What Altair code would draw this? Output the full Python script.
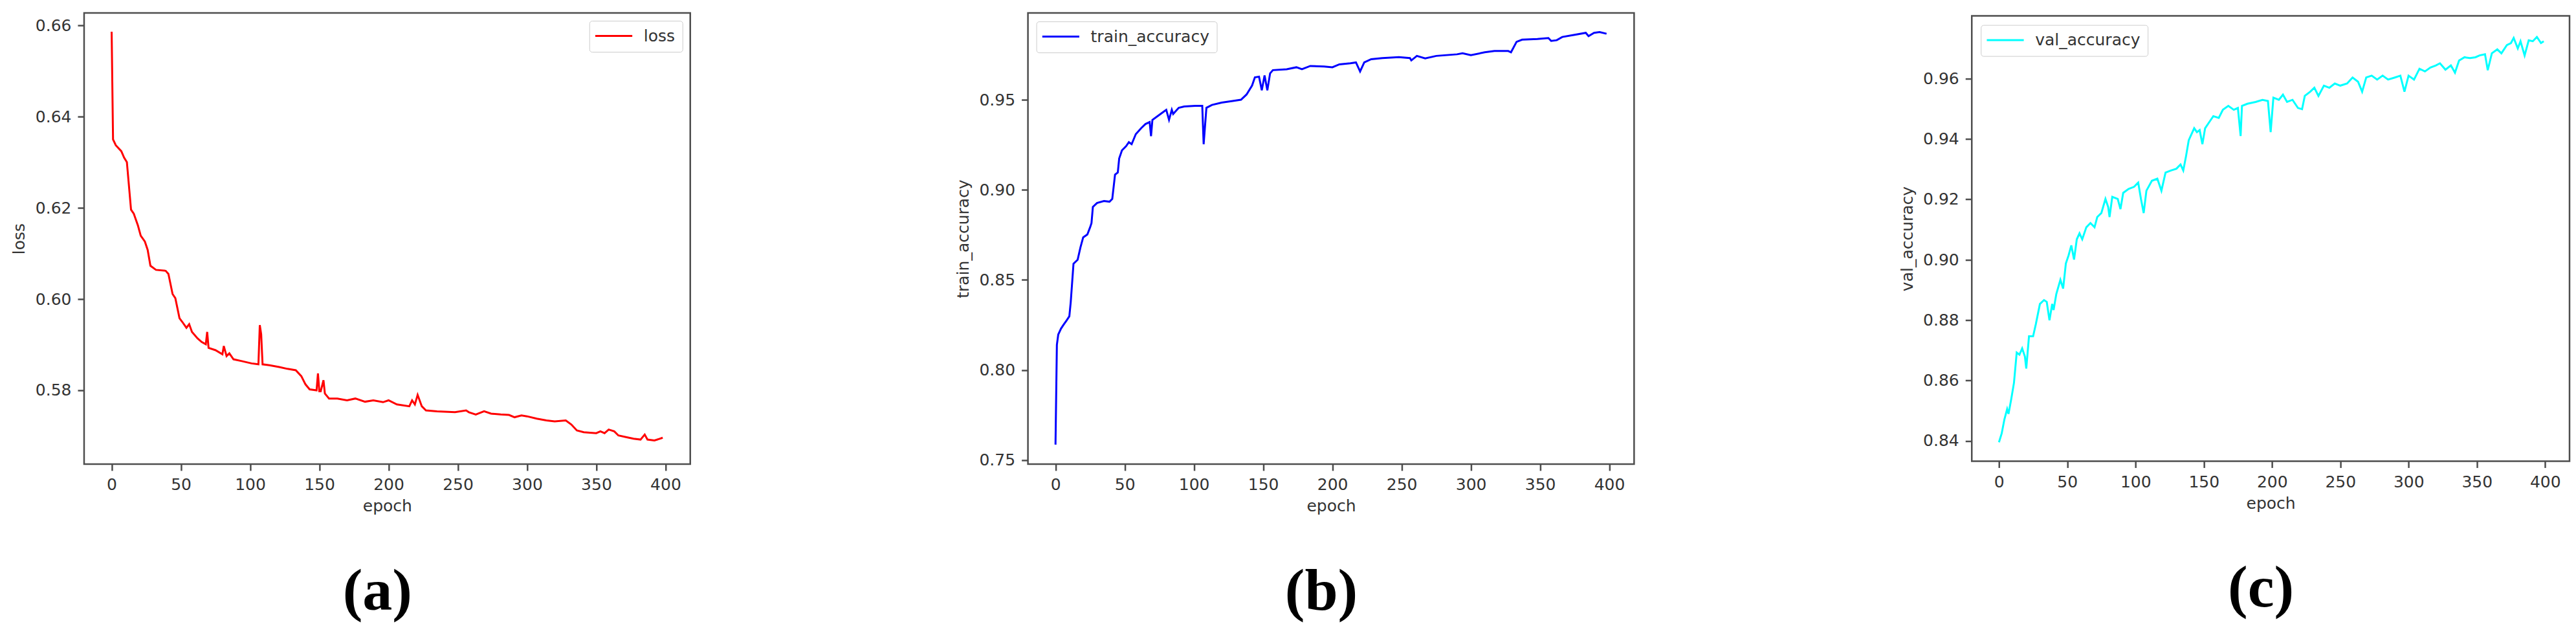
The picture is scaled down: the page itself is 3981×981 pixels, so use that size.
import altair as alt
import pandas as pd

# ---------------- data ----------------
loss_epoch = [0, 1, 3, 7, 9, 11, 14, 16, 19, 21, 24, 26, 28, 32, 39, 41, 44, 46, 49, 51,
              54, 56, 58, 62, 65, 68, 69, 70, 75, 80, 81, 83, 85, 88, 94, 101, 106, 107, 108, 109,
              114, 121, 127, 133, 137, 140, 143, 148, 149, 150, 151, 153, 154, 157, 163, 170, 176, 183, 189, 196,
              200, 206, 215, 217, 219, 221, 224, 227, 235, 248, 256, 258, 263, 269, 274, 281, 287, 291, 296, 300,
              307, 314, 320, 328, 332, 336, 341, 350, 353, 356, 359, 363, 366, 372, 377, 382, 385, 387, 392, 398]
loss_value = [0.6586, 0.6350, 0.6337, 0.6324, 0.6310, 0.6300, 0.6196, 0.6187, 0.6161, 0.6139,
              0.6126, 0.6108, 0.6073, 0.6064, 0.6062, 0.6055, 0.6011, 0.6002, 0.5958, 0.5950,
              0.5937, 0.5945, 0.5928, 0.5914, 0.5906, 0.5901, 0.5928, 0.5893, 0.5888, 0.5879,
              0.5897, 0.5875, 0.5881, 0.5868, 0.5864, 0.5859, 0.5857, 0.5943, 0.5923, 0.5857,
              0.5855, 0.5851, 0.5847, 0.5844, 0.5831, 0.5813, 0.5802, 0.5800, 0.5837, 0.5798,
              0.5798, 0.5822, 0.5793, 0.5782, 0.5782, 0.5778, 0.5782, 0.5775, 0.5778, 0.5774,
              0.5778, 0.5769, 0.5765, 0.5778, 0.5769, 0.5790, 0.5765, 0.5756, 0.5754, 0.5752,
              0.5756, 0.5752, 0.5747, 0.5754, 0.5749, 0.5747, 0.5746, 0.5741, 0.5745, 0.5743,
              0.5738, 0.5734, 0.5732, 0.5734, 0.5725, 0.5712, 0.5708, 0.5706, 0.5710, 0.5706,
              0.5714, 0.5710, 0.5701, 0.5697, 0.5694, 0.5692, 0.5703, 0.5692, 0.5690, 0.5696]

train_epoch = [0, 1, 2, 4, 6, 8, 10, 11, 13, 16, 18, 20, 23, 25, 26, 27, 30, 35, 39, 41,
               43, 45, 46, 48, 51, 53, 55, 58, 62, 65, 68, 69, 70, 74, 78, 80, 82, 84, 85, 89,
               93, 101, 106, 107, 109, 113, 120, 128, 134, 138, 142, 144, 147, 149, 151, 153, 155, 157, 167, 174,
               178, 184, 194, 200, 205, 213, 217, 220, 223, 228, 236, 248, 256, 257, 261, 267, 275, 290, 294, 300,
               310, 317, 327, 329, 333, 337, 348, 356, 358, 362, 366, 375, 383, 385, 389, 393, 398]
train_value = [0.7586, 0.8140, 0.8197, 0.8230, 0.8253, 0.8275, 0.8298, 0.8376, 0.8590, 0.8612,
               0.8680, 0.8736, 0.8752, 0.8792, 0.8815, 0.8905, 0.8927, 0.8938, 0.8934, 0.8949,
               0.9084, 0.9096, 0.9174, 0.9219, 0.9242, 0.9264, 0.9253, 0.9309, 0.9343, 0.9365,
               0.9376, 0.9298, 0.9388, 0.9410, 0.9433, 0.9444, 0.9388, 0.9444, 0.9421, 0.9455,
               0.9462, 0.9466, 0.9466, 0.9253, 0.9455, 0.9471, 0.9484, 0.9493, 0.9500, 0.9529,
               0.9579, 0.9624, 0.9628, 0.9552, 0.9635, 0.9552, 0.9646, 0.9664, 0.9669, 0.9680,
               0.9669, 0.9687, 0.9684, 0.9680, 0.9696, 0.9702, 0.9707, 0.9657, 0.9707, 0.9725,
               0.9731, 0.9736, 0.9731, 0.9718, 0.9743, 0.9729, 0.9743, 0.9752, 0.9758, 0.9747,
               0.9763, 0.9770, 0.9770, 0.9763, 0.9821, 0.9833, 0.9837, 0.9842, 0.9826, 0.9830,
               0.9848, 0.9860, 0.9871, 0.9853, 0.9871, 0.9875, 0.9866]

val_epoch = [0, 2, 4, 6, 7, 9, 11, 13, 15, 17, 19, 20, 22, 25, 27, 30, 33, 35, 37, 39,
             40, 42, 45, 47, 49, 51, 53, 55, 57, 59, 61, 64, 67, 70, 72, 75, 78, 80, 81, 83,
             87, 89, 91, 95, 99, 102, 104, 106, 108, 112, 116, 119, 122, 126, 130, 133, 135, 137, 139, 143,
             145, 147, 149, 151, 154, 157, 161, 164, 168, 172, 175, 177, 178, 182, 188, 193, 197, 199, 201, 205,
             208, 211, 215, 219, 222, 224, 228, 231, 234, 238, 242, 246, 250, 255, 259, 263, 266, 269, 273, 277,
             281, 285, 290, 294, 297, 300, 304, 308, 312, 316, 320, 323, 327, 331, 334, 337, 341, 345, 349, 352,
             356, 358, 361, 365, 368, 372, 375, 377, 380, 382, 385, 388, 391, 394, 397, 399]
val_value = [0.8395, 0.8424, 0.8471, 0.8505, 0.8489, 0.8538, 0.8592, 0.8692, 0.8685, 0.8706,
             0.8679, 0.8639, 0.8746, 0.8746, 0.8786, 0.8853, 0.8866, 0.8860, 0.8799, 0.8853,
             0.8833, 0.8886, 0.8933, 0.8904, 0.8987, 0.9014, 0.9047, 0.9000, 0.9067, 0.9087,
             0.9067, 0.9107, 0.9121, 0.9107, 0.9141, 0.9154, 0.9201, 0.9174, 0.9141, 0.9208,
             0.9201, 0.9167, 0.9221, 0.9234, 0.9241, 0.9255, 0.9201, 0.9154, 0.9228, 0.9261,
             0.9268, 0.9228, 0.9288, 0.9295, 0.9301, 0.9315, 0.9295, 0.9342, 0.9395, 0.9435,
             0.9422, 0.9429, 0.9382, 0.9435, 0.9455, 0.9475, 0.9469, 0.9496, 0.9509, 0.9496,
             0.9502, 0.9409, 0.9509, 0.9516, 0.9522, 0.9529, 0.9525, 0.9422, 0.9536, 0.9529,
             0.9546, 0.9522, 0.9529, 0.9502, 0.9498, 0.9542, 0.9556, 0.9569, 0.9542, 0.9576,
             0.9569, 0.9583, 0.9576, 0.9583, 0.9603, 0.9589, 0.9556, 0.9603, 0.9609, 0.9596,
             0.9609, 0.9596, 0.9603, 0.9609, 0.9556, 0.9609, 0.9596, 0.9632, 0.9623, 0.9636,
             0.9643, 0.9650, 0.9629, 0.9643, 0.9619, 0.9659, 0.9670, 0.9667, 0.9670, 0.9676,
             0.9680, 0.9627, 0.9683, 0.9696, 0.9683, 0.9710, 0.9717, 0.9734, 0.9699, 0.9723,
             0.9676, 0.9726, 0.9723, 0.9737, 0.9717, 0.9723]

x_ticks = [0, 50, 100, 150, 200, 250, 300, 350, 400]
loss_ticks = [0.58, 0.60, 0.62, 0.64, 0.66]
train_ticks = [0.75, 0.80, 0.85, 0.90, 0.95]
val_ticks = [0.84, 0.86, 0.88, 0.90, 0.92, 0.94, 0.96]

FONT = "DejaVu Sans"
TXT = "#333333"
FRAME = "#4d4d4d"


def panel(epochs, values, name, color, ticks, ydom, width, height, orient, loff, letter):
    df = pd.DataFrame({"epoch": epochs, "value": values, "series": [name] * len(epochs)})
    title = alt.TitleParams(
        text=letter, orient="bottom", anchor="middle", frame="group",
        font="Liberation Serif", fontSize=92, fontWeight="bold", color="black",
        baseline="alphabetic", offset=147, dx=-15,
    )
    return (
        alt.Chart(df, title=title)
        .mark_line(strokeWidth=3, clip=True)
        .encode(
            x=alt.X(
                "epoch:Q",
                scale=alt.Scale(domain=[-19.9, 417.9], nice=False, zero=False),
                axis=alt.Axis(values=x_ticks, format="d", title="epoch",
                              titleX=width / 2, titleY=73, titleBaseline="alphabetic",
                              titleAlign="center"),
            ),
            y=alt.Y(
                "value:Q",
                scale=alt.Scale(domain=ydom, nice=False, zero=False),
                axis=alt.Axis(values=ticks, format=".2f", title=name,
                              titleX=-87, titleY=height / 2, titleBaseline="bottom",
                              titleAlign="center"),
            ),
            color=alt.Color(
                "series:N",
                scale=alt.Scale(domain=[name], range=[color]),
                legend=alt.Legend(
                    title=None, orient=orient, offset=loff, padding=11,
                    fillColor="white", strokeColor="#cccccc", cornerRadius=4,
                    symbolType="M-1.3,0H3.9", symbolSize=484, symbolStrokeWidth=3,
                    labelFont=FONT, labelFontSize=25, labelColor=TXT,
                    labelOffset=48, labelLimit=500,
                ),
            ),
        )
        .properties(width=width, height=height)
    )


pa = panel(loss_epoch, loss_value, "loss", "#ff0000", loss_ticks,
           [0.56383, 0.66270], 937, 697, "top-right", 12, "(a)")
pb = panel(train_epoch, train_value, "train_accuracy", "#0000ff", train_ticks,
           [0.7478, 0.9981], 937, 697, "top-left", 13, "(b)")
pc = panel(val_epoch, val_value, "val_accuracy", "#00ffff", val_ticks,
           [0.83325, 0.98068], 924, 688, "top-left", 14, "(c)")

chart = (
    alt.hconcat(pa, pb, pc, spacing=522, bounds="flush", center=True)
    .resolve_scale(color="independent", x="independent", y="independent")
    .resolve_legend(color="independent")
    .properties(padding={"left": 8, "top": 10, "right": 0, "bottom": 0},
                background="white")
    .configure_view(stroke=FRAME, strokeWidth=2.5)
    .configure_axis(
        grid=False, domain=False,
        labelFont=FONT, labelFontSize=25, labelColor=TXT, labelPadding=10,
        tickColor=FRAME, tickWidth=2.5, tickSize=10,
        titleFont=FONT, titleFontSize=25, titleColor=TXT, titleFontWeight="normal",
    )
)

chart.save("out.html", embed_options={"renderer": "svg", "actions": False})
